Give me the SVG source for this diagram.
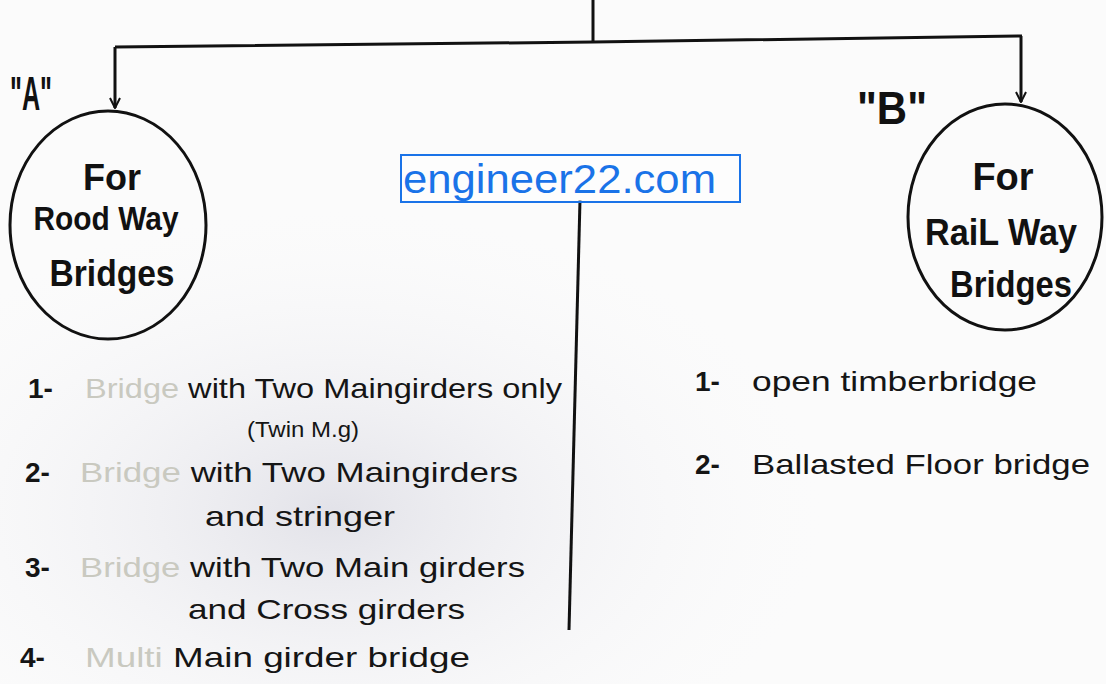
<svg xmlns="http://www.w3.org/2000/svg" width="1106" height="684" viewBox="0 0 1106 684">
<style>
.ln{stroke:#111;stroke-width:3;fill:none}
.hw{font-family:"Liberation Sans",Arial,sans-serif;fill:#151515}
.circ{font-family:"Liberation Sans Narrow","Liberation Sans",Arial,sans-serif;font-weight:bold;fill:#111;text-anchor:middle}
.item{font-size:28px}
.num{font-size:28px;font-weight:bold}
.dim{fill:#c9c9c0}
.wm{font-family:"Liberation Sans",Arial,sans-serif;font-size:40px;fill:#1a73e8}
</style>
<defs>
<marker id="ah" viewBox="0 0 12 12" refX="11" refY="6" markerWidth="12" markerHeight="12" markerUnits="userSpaceOnUse" orient="auto">
<path d="M1 1 L11 6 L1 11" fill="none" stroke="#111" stroke-width="2"/>
</marker>
<radialGradient id="shade" cx="0.3" cy="0.75" r="0.5">
<stop offset="0" stop-color="#dcdce4" stop-opacity="0.8"/>
<stop offset="1" stop-color="#ffffff" stop-opacity="0"/>
</radialGradient>
</defs>
<rect width="1106" height="684" fill="#fbfbfb"/>
<rect width="1106" height="684" fill="url(#shade)"/>
<g id="connectors">
<path class="ln" d="M593 0 L593 42"/>
<path class="ln" d="M115 47 L593 42 L1022 36"/>
<path class="ln" d="M115 47 L115 108" marker-end="url(#ah)"/>
<path class="ln" d="M1021 36 L1021 102" marker-end="url(#ah)"/>
<path class="ln" d="M580 200 L569 630"/>
</g>
<g id="nodeA">
<text class="circ" x="31" y="110" font-size="48" textLength="42" lengthAdjust="spacingAndGlyphs">"A"</text>
<ellipse cx="108" cy="225" rx="98" ry="114" class="ln"/>
<text class="circ" x="112" y="190" font-size="36">For</text>
<text class="circ" x="106" y="230" font-size="34" textLength="145" lengthAdjust="spacingAndGlyphs">Rood Way</text>
<text class="circ" x="112" y="286" font-size="36" textLength="125" lengthAdjust="spacingAndGlyphs">Bridges</text>
</g>
<g id="nodeB">
<text class="circ" x="892" y="124" font-size="46" textLength="70" lengthAdjust="spacingAndGlyphs">"B"</text>
<ellipse cx="1005" cy="217" rx="97" ry="113" class="ln"/>
<text class="circ" x="1003" y="190" font-size="38">For</text>
<text class="circ" x="1001" y="245" font-size="36" textLength="152" lengthAdjust="spacingAndGlyphs">RaiL Way</text>
<text class="circ" x="1011" y="297" font-size="36" textLength="122" lengthAdjust="spacingAndGlyphs">Bridges</text>
</g>
<g id="watermark">
<rect x="401" y="155" width="339" height="47" fill="#ffffff" fill-opacity="0.6" stroke="#1a73e8" stroke-width="2"/>
<text class="wm" x="403" y="193" textLength="313" lengthAdjust="spacingAndGlyphs">engineer22.com</text>
</g>
<g id="listA" class="hw">
<text class="num" x="28" y="398">1-</text>
<text class="item" x="85" y="398" textLength="477" lengthAdjust="spacingAndGlyphs"><tspan class="dim">Bridge</tspan> with Two Maingirders only</text>
<text x="247" y="437" font-size="22" textLength="112" lengthAdjust="spacingAndGlyphs">(Twin M.g)</text>
<text class="num" x="25" y="482">2-</text>
<text class="item" x="80" y="482" textLength="438" lengthAdjust="spacingAndGlyphs"><tspan class="dim">Bridge</tspan> with Two Maingirders</text>
<text class="item" x="205" y="526" textLength="190" lengthAdjust="spacingAndGlyphs">and stringer</text>
<text class="num" x="25" y="577">3-</text>
<text class="item" x="80" y="577" textLength="445" lengthAdjust="spacingAndGlyphs"><tspan class="dim">Bridge</tspan> with Two Main girders</text>
<text class="item" x="188" y="619" textLength="277" lengthAdjust="spacingAndGlyphs">and Cross girders</text>
<text class="num" x="20" y="667">4-</text>
<text class="item" x="85" y="667" textLength="385" lengthAdjust="spacingAndGlyphs"><tspan class="dim">Multi</tspan> Main girder bridge</text>
</g>
<g id="listB" class="hw">
<text class="num" x="695" y="391">1-</text>
<text class="item" x="752" y="391" textLength="285" lengthAdjust="spacingAndGlyphs">open timberbridge</text>
<text class="num" x="695" y="474">2-</text>
<text class="item" x="752" y="474" textLength="338" lengthAdjust="spacingAndGlyphs">Ballasted Floor bridge</text>
</g>
</svg>
